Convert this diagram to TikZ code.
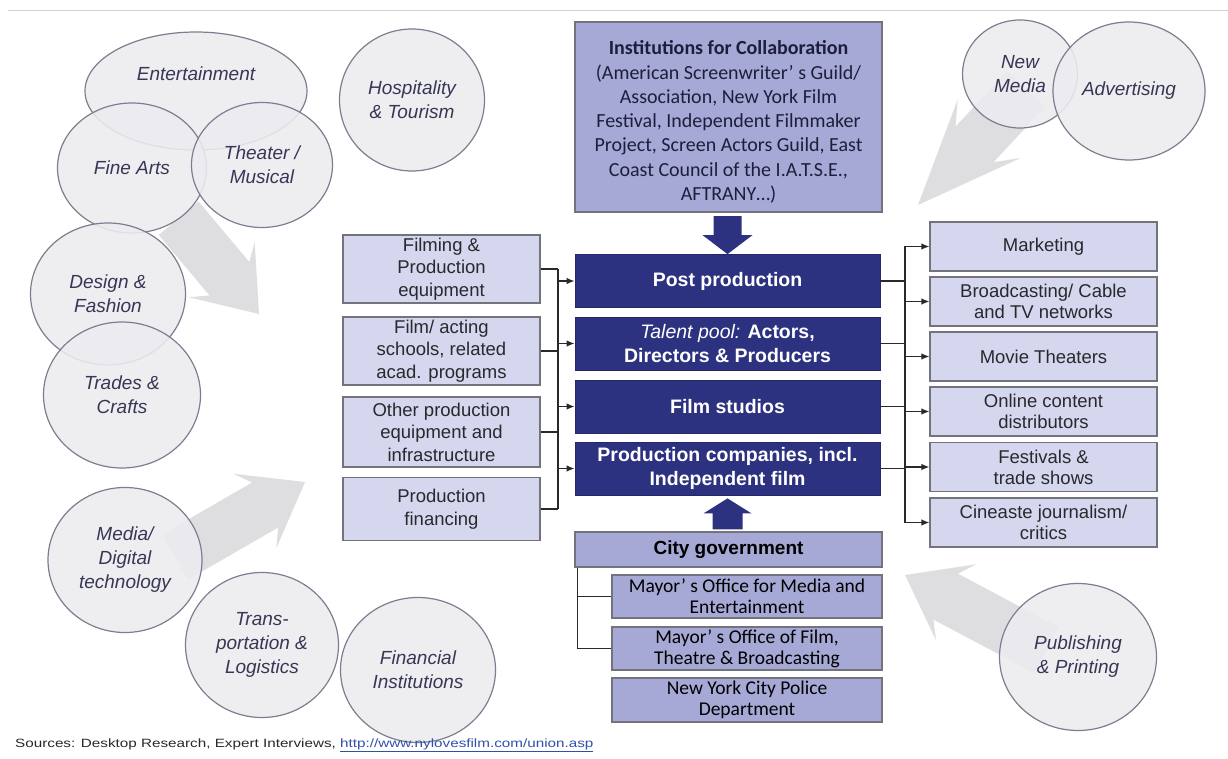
\documentclass[tikz,border=0pt]{standalone}
\usepackage{fontspec}
\setmainfont{Liberation Sans}
\newfontfamily\calibri{Carlito}
\newfontfamily\widesans[FakeStretch=1.27]{Liberation Sans}
\usepackage{xcolor}
\usetikzlibrary{arrows.meta,shapes.geometric}

\definecolor{navyfill}{RGB}{45,50,128}
\definecolor{lavfill}{RGB}{166,168,214}
\definecolor{sidefill}{RGB}{213,215,238}
\definecolor{boxline}{RGB}{115,115,125}
\definecolor{circfill}{RGB}{236,236,240}
\definecolor{circline}{RGB}{125,125,145}
\definecolor{circtext}{RGB}{55,55,85}
\definecolor{textgray}{RGB}{40,40,45}
\definecolor{instext}{RGB}{30,30,60}
\definecolor{arrowgray}{RGB}{222,222,224}
\definecolor{urlblue}{RGB}{50,80,170}

% big gray swoosh arrow: tip x, tip y, angle, shaft length, stretch along the arrow
\newcommand{\swoosh}[5]{
    \fill[arrowgray, shift={(#1,#2)}, rotate=#3, xscale=#5]
        (0,0) -- (-58,43) -- (-46,26) -- (-#4,26) -- (-#4,-26) -- (-46,-26) -- (-58,-43) -- cycle;
}

\begin{document}
\begin{tikzpicture}[x=1pt, y=-1pt,
    circ/.style={ellipse, draw=circline, line width=1.2pt, fill=circfill, fill opacity=.88, text opacity=1,
        text=circtext, inner sep=0pt, align=center, font=\fontsize{19}{24}\selectfont\itshape},
    sidebox/.style={draw=boxline, line width=1.2pt, fill=sidefill, text=textgray, align=center,
        minimum width=197pt, minimum height=68pt, inner sep=0pt, font=\fontsize{18.5}{22.5}\selectfont},
    outbox/.style={sidebox, minimum width=227pt, minimum height=49pt, font=\fontsize{18.5}{21}\selectfont},
    corebox/.style={fill=navyfill, draw=navyfill!80!black, line width=0.8pt, text=white, align=center,
        minimum width=305pt, minimum height=53pt, inner sep=0pt, font=\fontsize{19.5}{23.5}\selectfont\bfseries},
    govbox/.style={draw=boxline, line width=1.2pt, fill=lavfill, text=black, align=center,
        minimum width=270pt, minimum height=43pt, inner sep=0pt, font=\calibri\fontsize{19.5}{21}\selectfont},
    link/.style={draw=textgray, line width=1.3pt},
    >={Latex[length=8pt,width=6.5pt]}]

    \useasboundingbox (0,0) rectangle (1228,759);
    \fill[white] (0,0) rectangle (1228,759);
    \draw[gray!35, line width=1pt] (8,11) -- (1228,11);

    % gray arrows behind the circles
    \swoosh{259}{314}{-50}{125}{1}
    \swoosh{918}{205}{-133}{88}{1.8}
    \swoosh{305}{482}{30}{150}{1}
    \swoosh{905}{575}{152}{160}{1}

    % related industries
    \node[circ, minimum width=222pt, minimum height=118pt] (entertainment) at (196,91) {\raisebox{10pt}[0pt][0pt]{Entertainment}};
    \node[circ, minimum width=145pt, minimum height=142pt] (hospitality) at (412,100) {Hospitality\\\& Tourism};
    \node[circ, minimum width=149pt, minimum height=130pt] (finearts) at (132,168) {Fine Arts};
    \node[circ, minimum width=141pt, minimum height=125pt] (theater) at (262,165) {Theater /\\Musical};
    \node[circ, minimum width=155pt, minimum height=142pt] (design) at (108,294) {Design \&\\Fashion};
    \node[circ, minimum width=157pt, minimum height=146pt] (trades) at (122,395) {Trades \&\\Crafts};
    \node[circ, minimum width=154pt, minimum height=145pt] (media) at (125,560) {Media/\\Digital\\technology};
    \node[circ, minimum width=153pt, minimum height=145pt] (transport) at (262,645) {Trans-\\portation \&\\Logistics};
    \node[circ, minimum width=155pt, minimum height=145pt] (financial) at (418,670) {Financial\\Institutions};
    \node[circ, minimum width=115pt, minimum height=108pt] (newmedia) at (1020,74) {New\\Media};
    \node[circ, minimum width=152pt, minimum height=138pt] (advertising) at (1129,91) {Advertising};
    \node[circ, minimum width=157pt, minimum height=147pt] (publishing) at (1078,657) {Publishing\\\& Printing};

    % suppliers
    \node[sidebox] (filming) at (441.5,269) {Filming \&\\Production\\equipment};
    \node[sidebox] (schools) at (441.5,351) {Film/ acting\\schools, related\\acad. programs};
    \node[sidebox, minimum height=70pt] (otherequip) at (441.5,432) {Other production\\equipment and\\infrastructure};
    \node[sidebox, minimum height=63pt] (financing) at (441.5,509) {Production\\financing};

    % core
    \node[corebox] (post) at (727.5,281) {Post production};
    \node[corebox] (talent) at (727.5,343.5) {{\mdseries\itshape Talent pool:} Actors,\\Directors \& Producers};
    \node[corebox] (studios) at (727.5,406.5) {Film studios};
    \node[corebox] (prodco) at (727.5,468.5) {Production companies, incl.\\Independent film};

    % distribution
    \node[outbox] (marketing) at (1043.5,246.5) {Marketing};
    \node[outbox] (broadcast) at (1043.5,301.5) {Broadcasting/ Cable\\and TV networks};
    \node[outbox] (theaters) at (1043.5,356.5) {Movie Theaters};
    \node[outbox] (online) at (1043.5,411.5) {Online content\\distributors};
    \node[outbox] (festivals) at (1043.5,467) {Festivals \&\\trade shows};
    \node[outbox] (critics) at (1043.5,522.5) {Cineaste journalism/\\critics};

    % institutions on top
    \node[draw=boxline, line width=1.2pt, fill=lavfill, text=instext, align=center, minimum width=307pt,
        minimum height=190pt, inner sep=0pt, font=\calibri\fontsize{20}{24.3}\selectfont] (institutions) at (728.5,117)
        {\rule{0pt}{24pt}\textbf{Institutions for Collaboration}\\(American Screenwriter’ s Guild/\\Association, New York Film\\Festival, Independent Filmmaker\\Project, Screen Actors Guild, East\\Coast Council of the I.A.T.S.E.,\\AFTRANY\ldots)};

    % city government below
    \node[draw=boxline, line width=1.2pt, fill=lavfill, minimum width=307pt, minimum height=35pt, inner sep=0pt,
        font=\fontsize{19}{22}\selectfont\bfseries] (citygov) at (728.5,549.5) {City government};
    \node[govbox] (mayormedia) at (747,596.5) {Mayor’ s Office for Media and\\Entertainment};
    \node[govbox] (mayorfilm) at (747,648.5) {Mayor’ s Office of Film,\\Theatre \& Broadcasting};
    \node[govbox, minimum height=44pt] (police) at (747,700) {New York City Police\\Department};

    % thick blue arrows
    \fill[navyfill] (post.north) -- ++(-25,-19) -- ++(11,0) -- ++(0,-19) -- ++(28,0) -- ++(0,19) -- ++(11,0) -- cycle;
    \fill[navyfill] ([yshift=-3pt]prodco.south) -- ++(-24,15) -- ++(9,0) -- ++(0,16) -- ++(30,0) -- ++(0,-16) -- ++(9,0) -- cycle;

    % buses
    \coordinate (lbus) at (558,0);
    \coordinate (rbus) at (905,0);
    \coordinate (gbus) at (577,0);

    % suppliers into core
    \draw[link] (filming.east -| lbus) -- (financing.east -| lbus);
    \draw[link] (filming.east) -- (filming.east -| lbus);
    \draw[link] (schools.east) -- (schools.east -| lbus);
    \draw[link] (otherequip.east) -- (otherequip.east -| lbus);
    \draw[link] (financing.east) -- (financing.east -| lbus);
    \draw[link,->] (post.west -| lbus) -- (post.west);
    \draw[link,->] (talent.west -| lbus) -- (talent.west);
    \draw[link,->] (studios.west -| lbus) -- (studios.west);
    \draw[link,->] (prodco.west -| lbus) -- (prodco.west);

    % core out to distribution
    \draw[link] (marketing.west -| rbus) -- (critics.west -| rbus);
    \draw[link] (post.east) -- (post.east -| rbus);
    \draw[link] (talent.east) -- (talent.east -| rbus);
    \draw[link] (studios.east) -- (studios.east -| rbus);
    \draw[link] (prodco.east) -- (prodco.east -| rbus);
    \draw[link,->] (marketing.west -| rbus) -- (marketing.west);
    \draw[link,->] (broadcast.west -| rbus) -- (broadcast.west);
    \draw[link,->] (theaters.west -| rbus) -- (theaters.west);
    \draw[link,->] (online.west -| rbus) -- (online.west);
    \draw[link,->] (festivals.west -| rbus) -- (festivals.west);
    \draw[link,->] (critics.west -| rbus) -- (critics.west);

    % city offices
    \draw[link, line width=1pt] (citygov.south -| gbus) -- (mayorfilm.west -| gbus);
    \draw[link, line width=1pt] (mayormedia.west -| gbus) -- (mayormedia.west);
    \draw[link, line width=1pt] (mayorfilm.west -| gbus) -- (mayorfilm.west);

    \node[anchor=west, inner sep=0pt, text=textgray, font=\widesans\fontsize{12}{15}\selectfont] (sources) at (15,745)
        {Sources: Desktop Research, Expert Interviews, \textcolor{urlblue}{\underline{http://www.nylovesfilm.com/union.asp}}};

\end{tikzpicture}
\end{document}
